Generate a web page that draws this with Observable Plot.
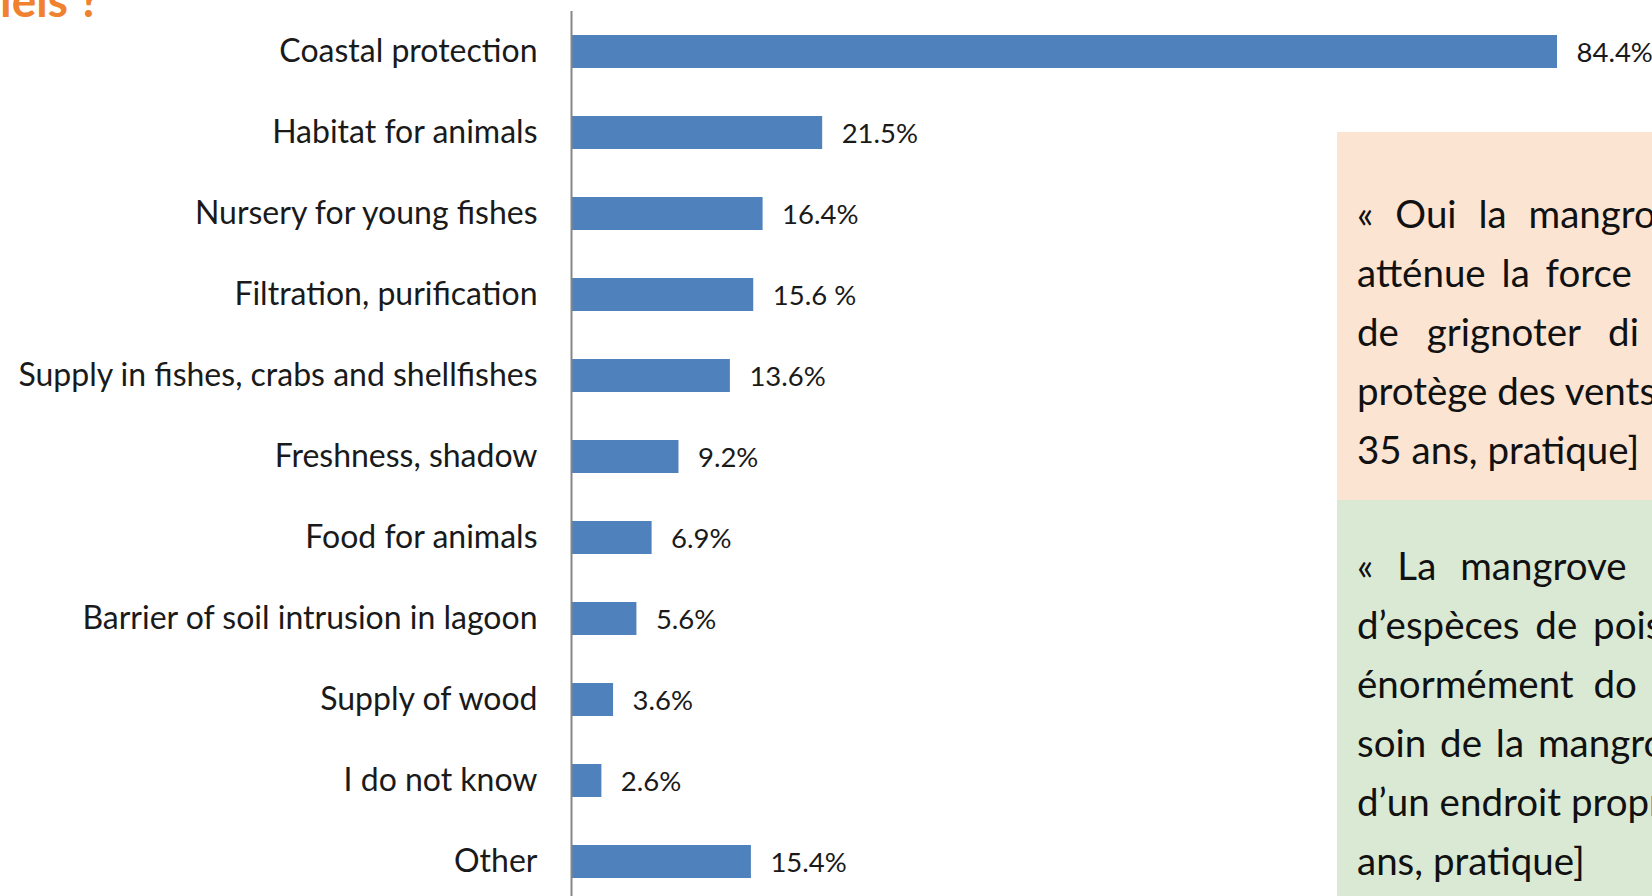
<!DOCTYPE html>
<html>
<head>
<meta charset="utf-8">
<script src="https://cdn.jsdelivr.net/npm/d3@7"></script>
<script src="https://cdn.jsdelivr.net/npm/@observablehq/plot@0.6"></script>
<style>
  html, body { margin: 0; padding: 0; background: #fff; overflow: hidden; }
  #page { position: relative; width: 1652px; height: 896px; overflow: hidden; font-family: Lato, "Open Sans", sans-serif; }
  #chart { position: absolute; left: 0; top: 0; }
  #title { position: absolute; left: 0; top: -23px; font-size: 46px; line-height: 46px; font-weight: bold; color: #F0822F; white-space: nowrap; }
  .box { position: absolute; left: 1337px; width: 315px; overflow: hidden; }
  .box .line { position: absolute; left: 20px; height: 59px; line-height: 59px; font-size: 38.5px; color: #111; white-space: nowrap; }
</style>
</head>
<body>
<div id="page">
  <div id="chart"></div>
  <div id="title">iels ?</div>
  <div class="box" id="box1" style="top:132px;height:368px;background:#FBE4D2;"></div>
  <div class="box" id="box2" style="top:500px;height:396px;background:#DAE9D4;"></div>
</div>
<script>
const categories = [
  "Coastal protection",
  "Habitat for animals",
  "Nursery for young fishes",
  "Filtration, purification",
  "Supply in fishes, crabs and shellfishes",
  "Freshness, shadow",
  "Food for animals",
  "Barrier of soil intrusion in lagoon",
  "Supply of wood",
  "I do not know",
  "Other"
];
const values = [84.4, 21.5, 16.4, 15.6, 13.6, 9.2, 6.9, 5.6, 3.6, 2.6, 15.4];
const valueLabels = ["84.4%", "21.5%", "16.4%", "15.6 %", "13.6%", "9.2%", "6.9%", "5.6%", "3.6%", "2.6%", "15.4%"];

const quote1 = ["« Oui la mangrove", "atténue la force", "de grignoter di", "protège des vents", "35 ans, pratique]"];
const quote2 = ["« La mangrove", "d’espèces de poissons", "énormément do", "soin de la mangrove", "d’un endroit propre", "ans, pratique]"];

const rows = categories.map((c, i) => ({category: c, value: values[i], label: valueLabels[i]}));

const chart = Plot.plot({
  width: 1652,
  height: 903,
  marginLeft: 571,
  marginRight: 95,
  marginTop: 11,
  marginBottom: 0,
  style: {fontFamily: "Lato, 'Open Sans', sans-serif", color: "#1a1a1a", background: "transparent"},
  x: {domain: [0, 84.4], axis: null},
  y: {domain: categories, paddingInner: 0.59, paddingOuter: 0.295, axis: null},
  marks: [
    Plot.barX(rows, {x: "value", y: "category", fill: "#4F81BD"}),
    Plot.ruleX([0], {stroke: "#868686", strokeWidth: 2}),
    Plot.axisY({label: null, tickSize: 0, tickPadding: 34, fontSize: 32, textAnchor: "end", fill: "#1a1a1a"}),
    Plot.text(rows, {x: "value", y: "category", text: "label", dx: 19, dy: 1, textAnchor: "start", fontSize: 27.5, fill: "#1a1a1a"})
  ]
});
document.getElementById("chart").appendChild(chart);

function fillBox(id, lines, firstTop, spacings) {
  const box = document.getElementById(id);
  lines.forEach((t, i) => {
    const d = document.createElement("div");
    d.className = "line";
    d.style.top = (firstTop + i * 59) + "px";
    d.style.wordSpacing = spacings[i] + "px";
    d.textContent = t;
    box.appendChild(d);
  });
}
fillBox("box1", quote1, 52, [12, 6, 18, 0, 0]);
fillBox("box2", quote2, 36, [14, 6, 10, 4, 0, 0]);
</script>
</body>
</html>
